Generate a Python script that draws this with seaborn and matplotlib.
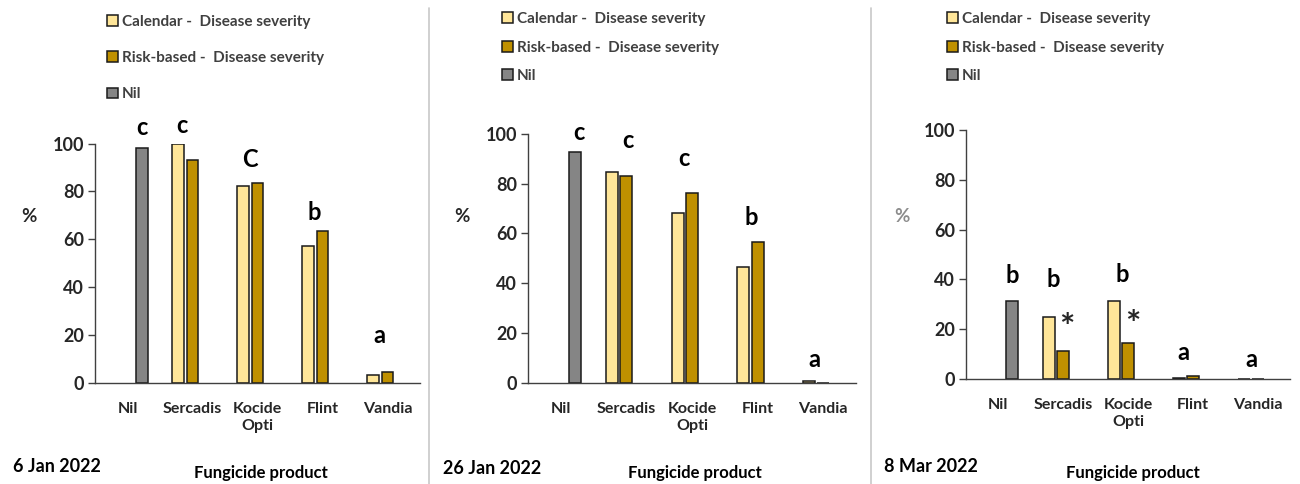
import numpy as np
import pandas as pd
import matplotlib
matplotlib.use("Agg")
import matplotlib.pyplot as plt
from matplotlib.lines import Line2D
import seaborn as sns

nan = np.nan

products = ["Nil", "Sercadis", "Kocide\nOpti", "Flint", "Vandia"]
series = ["Calendar -  Disease severity", "Risk-based -  Disease severity", "Nil"]
colors = ["#FFE699", "#BF9000", "#858585"]

# Disease severity (%) per sampling date
jan6_calendar = [nan, 100.0, 82.3, 57.2, 3.3]
jan6_risk = [nan, 93.3, 83.4, 63.5, 4.5]
jan6_nil = [98.3, nan, nan, nan, nan]

jan26_calendar = [nan, 84.8, 68.4, 46.4, 0.5]
jan26_risk = [nan, 83.2, 76.4, 56.5, 0.0]
jan26_nil = [92.9, nan, nan, nan, nan]

mar8_calendar = [nan, 25.0, 31.4, 0.5, 0.0]
mar8_risk = [nan, 11.2, 14.6, 1.2, 0.0]
mar8_nil = [31.4, nan, nan, nan, nan]

dates = ["6 Jan 2022", "26 Jan 2022", "8 Mar 2022"]

# significance letters: (text, x position, baseline y)
jan6_letters = [("c", 0.22, 103.6), ("c", 0.84, 104.4), ("C", 1.88, 90.4),
                ("b", 2.88, 68.1), ("a", 3.87, 16.6)]
jan26_letters = [("c", 0.28, 97.6), ("c", 1.02, 94.5), ("c", 1.88, 87.3),
                 ("b", 2.91, 63.4), ("a", 3.86, 6.4)]
mar8_letters = [("b", 0.22, 38.7), ("b", 0.84, 36.8), ("b", 1.91, 39.1),
                ("a", 2.85, 7.6), ("a", 3.91, 4.9)]
mar8_stars = [("*", 1.06, 20.1), ("*", 2.08, 21.3)]

sns.set_theme(style="white")
plt.rcParams["font.family"] = ["Lato", "DejaVu Sans"]

W, H = 1300, 484
fig = plt.figure(figsize=(W / 100, H / 100), dpi=100)


def px(x0, y_top, x1, y_bot):
    return [x0 / W, 1 - y_bot / H, (x1 - x0) / W, (y_bot - y_top) / H]


panels = [
    dict(cal=jan6_calendar, risk=jan6_risk, nil=jan6_nil, letters=jan6_letters, stars=[],
         rect=px(95, 143.7, 420, 382.7), legend=(107, 15), rowgap=1.45,
         pct=(29, 216), pct_color="#262626", date=(13, 467), xlab=(261, 473)),
    dict(cal=jan26_calendar, risk=jan26_risk, nil=jan26_nil, letters=jan26_letters, stars=[],
         rect=px(528, 134, 856, 382.7), legend=(502, 12), rowgap=0.95,
         pct=(462, 216), pct_color="#262626", date=(443, 468), xlab=(695, 473)),
    dict(cal=mar8_calendar, risk=mar8_risk, nil=mar8_nil, letters=mar8_letters, stars=mar8_stars,
         rect=px(966, 130, 1290, 379), legend=(947, 12), rowgap=0.95,
         pct=(902, 216), pct_color="#8c8c8c", date=(884, 467), xlab=(1133, 473)),
]

axis_col = "#404040"
text_col = "#262626"

for p, date in zip(panels, dates):
    df = pd.DataFrame({
        "product": products * 3,
        "series": [series[0]] * 5 + [series[1]] * 5 + [series[2]] * 5,
        "value": list(p["cal"]) + list(p["risk"]) + list(p["nil"]),
    })
    ax = fig.add_axes(p["rect"])
    sns.barplot(data=df, x="product", y="value", hue="series", order=products,
                hue_order=series, palette=colors, saturation=1, width=0.65, gap=0.15,
                edgecolor="#1a1a1a", linewidth=1.1, errorbar=None, ax=ax)
    ax.set_xlim(-0.5, 4.5)
    ax.set_ylim(0, 100)
    ax.set_yticks(range(0, 101, 20))
    ax.set_yticklabels([str(v) for v in range(0, 101, 20)], fontsize=13,
                       fontweight="bold", color=text_col)
    ax.set_xticks(range(5))
    ax.set_xticklabels(products, fontsize=11.5, fontweight="bold", color=text_col,
                       linespacing=1.25)
    ax.set_xticks(np.arange(-0.5, 5.0, 1.0), minor=True)
    ax.tick_params(axis="x", which="major", length=0, pad=14)
    ax.tick_params(axis="x", which="minor", length=5, width=1, color=axis_col, direction="out")
    ax.tick_params(axis="y", which="major", length=5, width=1, color=axis_col,
                   direction="out", pad=3, left=True)
    ax.set_xlabel("")
    ax.set_ylabel("")
    for s in ["top", "right"]:
        ax.spines[s].set_visible(False)
    for s in ["left", "bottom"]:
        ax.spines[s].set_color(axis_col)
        ax.spines[s].set_linewidth(1.0)
    ax.set_facecolor("none")

    for t, x, y in p["letters"]:
        ax.text(x, y, t, ha="center", va="baseline", fontsize=17,
                fontweight="bold", color="black", clip_on=False)
    for t, x, y in p["stars"]:
        ax.text(x, y, t, ha="center", va="center", fontsize=26,
                fontweight="bold", color="#262626", clip_on=False)

    handles, labels = ax.get_legend_handles_labels()
    ax.legend(handles, labels, loc="upper left",
              bbox_to_anchor=(p["legend"][0] / W, 1 - p["legend"][1] / H),
              bbox_transform=fig.transFigure, frameon=False,
              prop={"size": 11, "weight": "bold"},
              handlelength=0.7, handleheight=0.7, handletextpad=0.25,
              labelspacing=p["rowgap"], borderpad=0, borderaxespad=0,
              labelcolor="#404040")

    fig.text(p["pct"][0] / W, 1 - p["pct"][1] / H, "%", ha="center", va="center",
             fontsize=13.5, fontweight="bold", color=p["pct_color"])
    fig.text(p["date"][0] / W, 1 - p["date"][1] / H, date, ha="left", va="center",
             fontsize=13, fontweight="bold", color="black")
    fig.text(p["xlab"][0] / W, 1 - p["xlab"][1] / H, "Fungicide product", ha="center",
             va="center", fontsize=12, fontweight="bold", color="black")

# panel separators
for xs in (429, 871):
    fig.add_artist(Line2D([xs / W, xs / W], [0, 1 - 8 / H], color="#c8c8c8", lw=1.2))

fig.savefig("out.png", dpi=100)
